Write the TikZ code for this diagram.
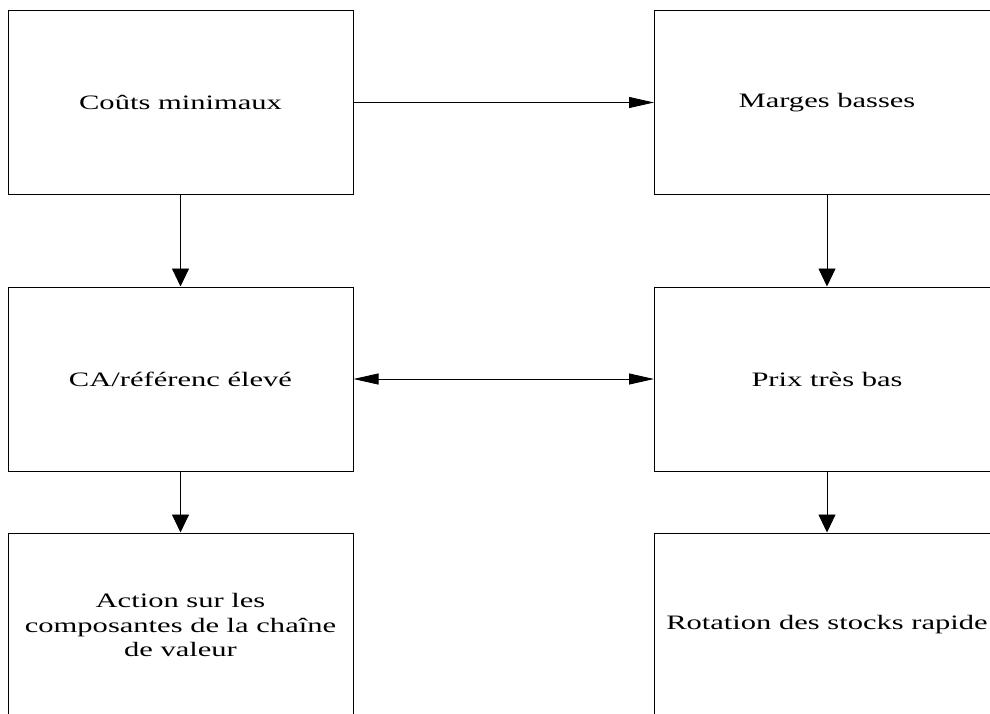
\documentclass[tikz,border=0pt]{standalone}
\usepackage{fontspec}
\setmainfont{Liberation Serif}
\newfontfamily\wideserif[FakeStretch=1.49]{Liberation Serif}
\usetikzlibrary{arrows.meta}
\begin{document}
\begin{tikzpicture}[x=1pt,y=-1pt,
  box/.style={draw=black, line width=1pt, minimum width=345pt, minimum height=184pt,
    inner sep=0pt, align=center, font=\wideserif\fontsize{20.5}{24.5}\selectfont},
  harrow/.style={line width=0.9pt, -{Triangle[length=25pt,width=11pt]}},
  hharrow/.style={line width=0.9pt, {Triangle[length=25pt,width=11pt]}-{Triangle[length=25pt,width=11pt]}},
  varrow/.style={line width=0.9pt, -{Triangle[length=18pt,width=17pt]}}]
\useasboundingbox (0,0) rectangle (990,713);
\clip (0,0) rectangle (990,713);
\fill[white] (0,0) rectangle (990,713);
\node[box] (a) at (180.5,102.5) {Coûts minimaux};
\node[box] (b) at (827,102.5) {Marges basses};
\node[box] (c) at (180.5,379) {CA/référenc élevé};
\node[box] (d) at (827,379) {Prix très bas};
\node[box] (e) at (180.5,625) {Action sur les\\composantes de la chaîne\\de valeur};
\node[box] (f) at (827,625) {Rotation des stocks rapide};
\draw[harrow] (a.east) -- (b.west);
\draw[hharrow] (c.east) -- (d.west);
\draw[varrow] (a.south) -- (c.north);
\draw[varrow] (b.south) -- (d.north);
\draw[varrow] (c.south) -- (e.north);
\draw[varrow] (d.south) -- (f.north);
\end{tikzpicture}
\end{document}
